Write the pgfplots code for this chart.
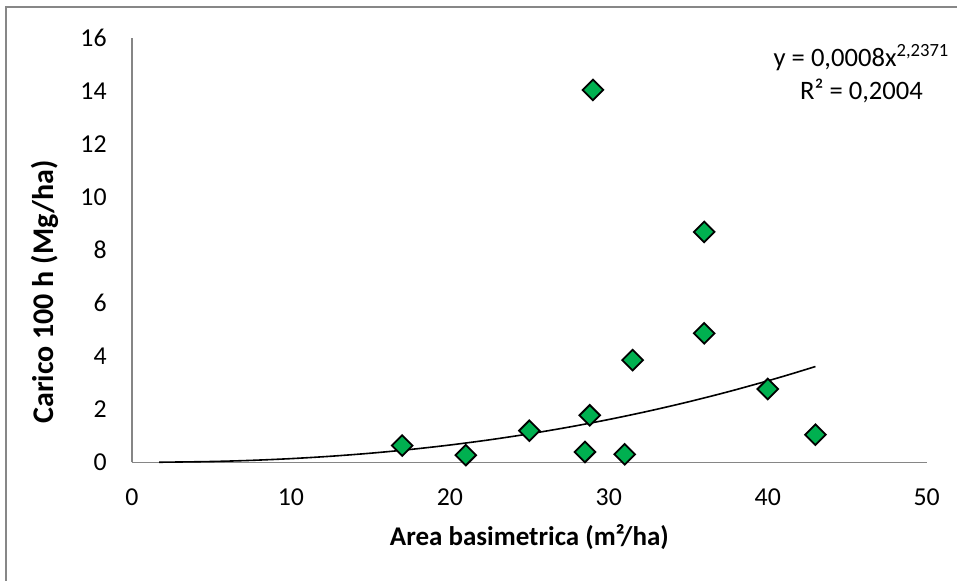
\documentclass[border=0pt]{standalone}
\usepackage{pgfplots}
\pgfplotsset{compat=1.18}
\usepackage{fontspec}
\setmainfont{Carlito}
\definecolor{frame}{HTML}{878787}
\definecolor{axisgray}{HTML}{868686}
\definecolor{ptgreen}{HTML}{00B050}
\begin{document}
\begin{tikzpicture}
\fontsize{12.7}{15}\selectfont
\useasboundingbox (-66pt,-59.35pt) rectangle (412.5pt,231.15pt);
% chart frame (left and top edges)
\draw[frame, line width=1pt] (-63pt,-60pt) -- (-63pt,227.65pt) -- (413pt,227.65pt);
\begin{axis}[
  at={(0,0)}, anchor=south west,
  scale only axis, width=397.35pt, height=212.3pt,
  xmin=0, xmax=50, ymin=0, ymax=16,
  xtick={0,10,...,50}, ytick={0,2,...,16},
  axis x line*=bottom, axis y line*=left,
  axis line style={axisgray, line width=0.75pt, -},
  major tick length=0pt,
  /pgf/number format/assume math mode=true,
  tick label style={font=\fontsize{12.9}{15}\selectfont, inner sep=0pt},
  xticklabel style={anchor=north, yshift=-13pt},
  yticklabel style={anchor=east, xshift=-12.5pt},
  xlabel={\bfseries Area basimetrica (m²/ha)},
  ylabel={\bfseries Carico 100 h (Mg/ha)},
  xlabel style={font=\fontsize{13.5}{15}\selectfont, at={(axis description cs:0.5,0)}, anchor=base, yshift=-41.4pt, inner sep=0pt},
  ylabel style={font=\fontsize{15}{17}\selectfont, at={(axis description cs:-0.1095,0.401)}, anchor=center, inner sep=0pt},
  clip=false,
]
% power trendline y = 0.0008 x^2.2371, tabulated
\addplot[black, line width=0.8pt, smooth] coordinates {
  (1.76,0.0028) (2,0.0038) (5,0.0293) (7.5,0.0725) (10,0.1381)
  (12.5,0.2275) (15,0.3421) (17.5,0.4829) (20,0.651) (22.5,0.8473)
  (25,1.0726) (27.5,1.3275) (30,1.6127) (32.5,1.9288) (35,2.2766)
  (37.5,2.6565) (40,3.0694) (41.5,3.3328) (43,3.6087)
};
% observations
\addplot[only marks, mark=square*, mark size=3.65pt,
  mark options={rotate=45, fill=ptgreen, draw=black, line width=0.9pt}]
  coordinates {
  (17,0.63) (21,0.27) (25,1.19) (28.5,0.39) (28.8,1.77) (29,14.03)
  (31,0.30) (31.5,3.85) (36,8.68) (36,4.86) (40,2.76) (43,1.04)
};
\node[font=\fontsize{13.3}{15}\selectfont, anchor=center] at (axis cs:45.9,15.25) {y = 0,0008x\textsuperscript{2,2371}};
\node[font=\fontsize{13.3}{15}\selectfont, anchor=center] at (axis cs:45.9,14.0) {R² = 0,2004};
\end{axis}
\end{tikzpicture}
\end{document}
